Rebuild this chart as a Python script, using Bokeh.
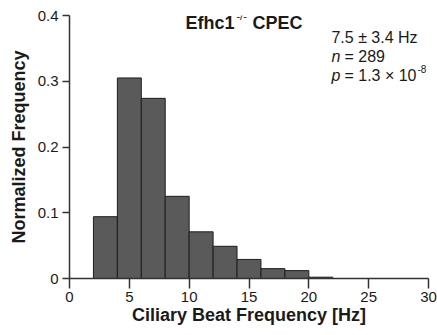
from bokeh.plotting import figure
from bokeh.models import Range1d, Label, FixedTicker
from bokeh.embed import file_html
from bokeh.resources import INLINE

# Histogram data (bin edges in Hz, normalized frequency)
bin_left = [2, 4, 6, 8, 10, 12, 14, 16, 18, 20]
bin_right = [4, 6, 8, 10, 12, 14, 16, 18, 20, 22]
norm_freq = [0.094, 0.305, 0.274, 0.125, 0.071, 0.049, 0.029, 0.015, 0.012, 0.002]

x_ticks = [0, 5, 10, 15, 20, 25, 30]
y_ticks = [0, 0.1, 0.2, 0.3, 0.4]
y_tick_labels = ["0", "0.1", "0.2", "0.3", "0.4"]

title_main = "Efhc1"
title_sup = "-/-"
title_rest = "CPEC"
stat_mean = "7.5 \u00b1 3.4 Hz"
stat_n = "289"
stat_p = "1.3 \u00d7 10"
stat_p_exp = "-8"

FONT = "Liberation Sans"
INK = "#1a1a1a"

p = figure(width=437, height=335, x_range=Range1d(0, 30), y_range=Range1d(0, 0.4),
           output_backend="svg", toolbar_location=None,
           min_border_left=69, min_border_right=9, min_border_top=15, min_border_bottom=57)
p.outline_line_color = None
p.grid.visible = False
p.background_fill_color = "white"
p.border_fill_color = "white"

p.quad(left=bin_left, right=bin_right, bottom=0, top=norm_freq,
       fill_color="#5a5a5a", line_color="#1e1e1e", line_width=1)

for ax in (p.xaxis[0], p.yaxis[0]):
    ax.axis_line_color = "#333333"
    ax.axis_line_width = 1.5
    ax.major_tick_line_color = "#333333"
    ax.major_tick_line_width = 1.5
    ax.minor_tick_line_color = None
    ax.major_tick_in = 0
    ax.major_label_text_font = FONT
    ax.major_label_text_font_size = "15px"
    ax.major_label_text_color = INK
    ax.axis_label_text_font = FONT
    ax.axis_label_text_font_size = "18px"
    ax.axis_label_text_font_style = "bold"
    ax.axis_label_text_color = INK

p.xaxis.ticker = FixedTicker(ticks=x_ticks)
p.xaxis.major_tick_out = 10
p.xaxis.major_label_standoff = 3
p.xaxis.axis_label = "Ciliary Beat Frequency [Hz]"
p.xaxis.axis_label_standoff = 0

p.yaxis.ticker = FixedTicker(ticks=y_ticks)
p.yaxis.major_label_overrides = {t: s for t, s in zip(y_ticks, y_tick_labels)}
p.yaxis.major_tick_out = 7
p.yaxis.major_label_standoff = 4
p.yaxis.axis_label = "Normalized Frequency"
p.yaxis.axis_label_standoff = 6


def lab(text, x, y, size, style="normal", xo=0, yo=0):
    p.add_layout(Label(x=x, y=y, text=text, x_offset=xo, y_offset=yo,
                       text_font=FONT, text_font_size=size, text_font_style=style,
                       text_color=INK, text_baseline="alphabetic", text_align="left"))

# Title: Efhc1^-/- CPEC
tx, ty = 9.69, 0.389
lab(title_main, tx, ty, "18px", "bold")
lab(title_sup, tx, ty, "11px", "normal", xo=51, yo=7)
lab(title_rest, tx, ty, "18px", "bold", xo=67)

# Stats
sx = 21.89
lab(stat_mean, sx, 0.3665, "16px")
lab("n", sx, 0.3376, "16px", "italic")
lab("= " + stat_n, sx, 0.3376, "16px", xo=13)
lab("p", sx, 0.3087, "16px", "italic")
lab("= " + stat_p, sx, 0.3087, "16px", xo=13)
lab(stat_p_exp, sx, 0.3087, "10px", xo=86, yo=7)

open("out.html", "w").write(file_html(p, INLINE))
